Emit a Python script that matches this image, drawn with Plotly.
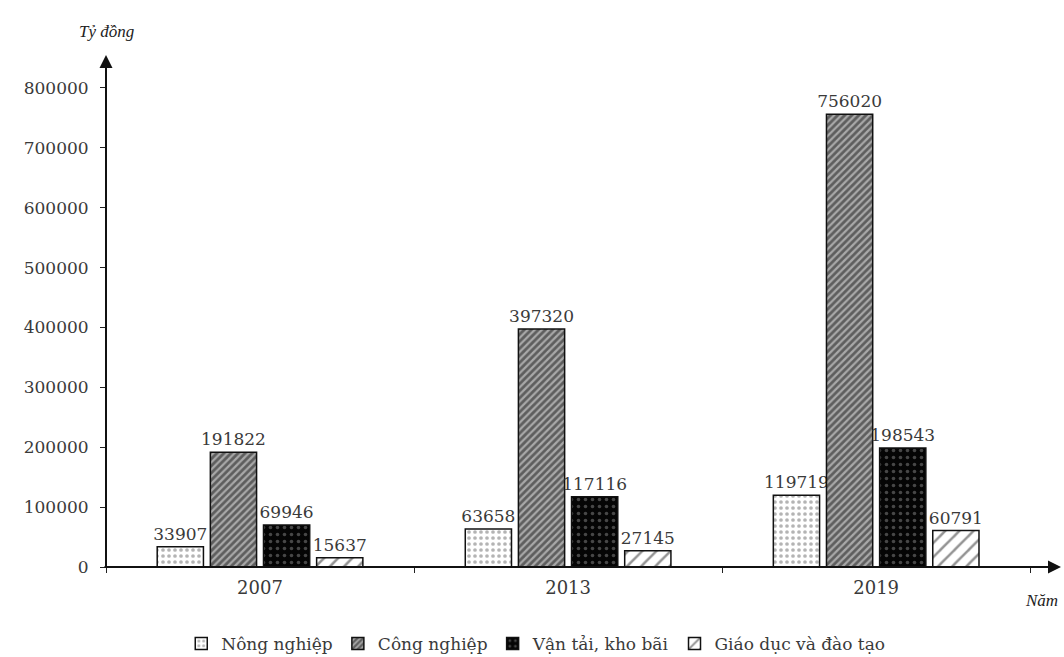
import plotly.graph_objects as go

# Năm và giá trị (tỷ đồng) theo ngành
years = ["2007", "2013", "2019"]
nong_nghiep = [33907, 63658, 119719]
cong_nghiep = [191822, 397320, 756020]
van_tai = [69946, 117116, 198543]
giao_duc = [15637, 27145, 60791]

series_names = ["Nông nghiệp", "Công nghiệp", "Vận tải, kho bãi", "Giáo dục và đào tạo"]
y_ticks = [0, 100000, 200000, 300000, 400000, 500000, 600000, 700000, 800000]

FONT = "DejaVu Serif"
TEXT_COLOR = "#3a3a3a"

patterns = [
    dict(shape=".", bgcolor="white", fgcolor="#6a6a6a", size=6, solidity=0.3),
    dict(shape="/", bgcolor="#a8a8a8", fgcolor="#141414", size=5, solidity=0.55),
    dict(shape=".", bgcolor="#050505", fgcolor="#8a8a8a", size=7, solidity=0.2),
    dict(shape="/", bgcolor="white", fgcolor="#2a2a2a", size=10, solidity=0.25),
]

fig = go.Figure()
for name, vals, pat in zip(series_names, [nong_nghiep, cong_nghiep, van_tai, giao_duc], patterns):
    fig.add_trace(go.Bar(
        x=years, y=vals, name=name,
        marker=dict(color=pat["bgcolor"], pattern=pat,
                    line=dict(color="#111111", width=1.5)),
        text=[str(v) for v in vals], textposition="outside",
        constraintext="none",
        textfont=dict(family=FONT, size=17, color=TEXT_COLOR),
        cliponaxis=False,
    ))

fig.update_layout(
    width=1064, height=657,
    margin=dict(l=106, r=3, t=55, b=90),
    paper_bgcolor="white", plot_bgcolor="white",
    barmode="group", bargap=0.31, bargroupgap=0.13,
    font=dict(family=FONT, size=17, color=TEXT_COLOR),
    showlegend=True,
    legend=dict(orientation="h", x=0.45, xanchor="center",
                yref="container", y=0.02, yanchor="middle",
                font=dict(family=FONT, size=17, color=TEXT_COLOR),
                itemwidth=30, tracegroupgap=0, traceorder="normal"),
    xaxis=dict(range=[-0.5, 2.6], showline=False, showgrid=False, zeroline=False,
               automargin=False,
               ticks="outside", tickson="boundaries", ticklen=5, tickcolor="#222",
               ticklabelstandoff=8,
               tickfont=dict(family=FONT, size=18, color=TEXT_COLOR)),
    yaxis=dict(range=[0, 855000], showline=False, showgrid=False, zeroline=False,
               automargin=False,
               tickvals=y_ticks, ticktext=[str(v) for v in y_ticks],
               ticks="outside", ticklen=5, tickcolor="#222",
               ticklabelstandoff=8,
               tickfont=dict(family=FONT, size=17, color=TEXT_COLOR)),
)

# Trục tung và trục hoành có mũi tên
fig.add_annotation(xref="paper", yref="paper", x=0, y=1.0, ax=0, ay=514,
                   axref="pixel", ayref="pixel", showarrow=True, arrowhead=2,
                   arrowsize=1.3, arrowwidth=2, arrowcolor="#111", text="")
fig.add_annotation(xref="paper", yref="paper", x=1.0, y=0, ax=-958, ay=0,
                   axref="pixel", ayref="pixel", showarrow=True, arrowhead=2,
                   arrowsize=1.3, arrowwidth=2, arrowcolor="#111", text="")

# Nhãn đơn vị
fig.add_annotation(xref="paper", yref="paper", x=0, y=1, xanchor="center", yanchor="bottom",
                   yshift=12, text="<i>Tỷ đồng</i>", showarrow=False,
                   font=dict(family="Liberation Serif", size=17, color="#222"))
fig.add_annotation(xref="paper", yref="paper", x=1, y=0, xanchor="right", yanchor="top",
                   xshift=-1, yshift=-22, text="<i>Năm</i>", showarrow=False,
                   font=dict(family="Liberation Serif", size=17, color="#222"))

fig.write_html("out.html")
